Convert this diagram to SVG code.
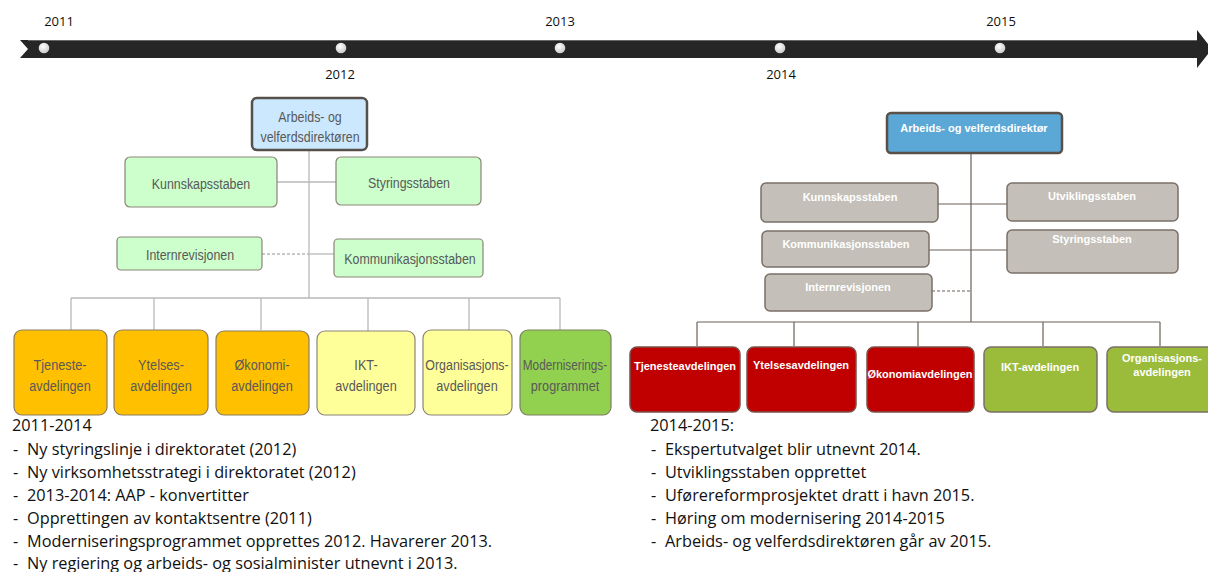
<svg xmlns="http://www.w3.org/2000/svg" width="1208" height="572" viewBox="0 0 1208 572">
<defs>
<radialGradient id="dot" cx="0.4" cy="0.35" r="0.7">
<stop offset="0" stop-color="#ffffff"/>
<stop offset="1" stop-color="#c8c8c8"/>
</radialGradient>
<style>
.yr{font-family:"Open Sans","Liberation Sans",sans-serif;font-size:13px;fill:#111}
.ln{fill:none;stroke:#b8b8b8;stroke-width:1.3}
.rl{fill:none;stroke:#6b6058;stroke-width:1.2}
.dash{stroke-dasharray:3,2}
.nl{font-family:"Liberation Sans",Arial,sans-serif;font-size:15.5px;fill:#595959;text-anchor:middle}
.nr{font-family:"Liberation Sans",Arial,sans-serif;font-size:11px;font-weight:bold;fill:#ffffff;text-anchor:middle}
.grn{fill:#ccffcc;stroke:#8c8478;stroke-width:1.2}
.org{fill:#ffc000;stroke:#8c7c60;stroke-width:1.2}
.yel{fill:#ffff99;stroke:#8c8478;stroke-width:1.2}
.lgr{fill:#92d050;stroke:#7c8060;stroke-width:1.2}
.gry{fill:#c4bfb8;stroke:#7a7068;stroke-width:1.5}
.red{fill:#c00000;stroke:#7a5048;stroke-width:1.5}
.olv{fill:#9bbb3b;stroke:#7a7068;stroke-width:1.5}
.bt{font-family:"Open Sans","Liberation Sans",sans-serif;font-size:16.3px;fill:#111}
</style>
</defs>
<rect width="1208" height="572" fill="#ffffff"/>

<g id="timeline">
<polygon points="20,40 1197,40 1197,30 1212,49 1197,68 1197,58 20,58 28,49" fill="#262626"/>
<line x1="28" y1="40.5" x2="1197" y2="40.5" stroke="#666" stroke-width="1"/>
<g fill="url(#dot)">
<circle cx="44" cy="48" r="5.3"/>
<circle cx="341" cy="48" r="5.3"/>
<circle cx="560" cy="48" r="5.3"/>
<circle cx="780" cy="48" r="5.3"/>
<circle cx="1000" cy="48" r="5.3"/>
</g>
<text class="yr" x="59" y="26" text-anchor="middle">2011</text>
<text class="yr" x="560" y="26" text-anchor="middle">2013</text>
<text class="yr" x="1001" y="26" text-anchor="middle">2015</text>
<text class="yr" x="340" y="79" text-anchor="middle">2012</text>
<text class="yr" x="781" y="79" text-anchor="middle">2014</text>
</g>

<g id="connectors">
<line class="ln" x1="309" y1="150" x2="309" y2="298"/>
<line class="ln" x1="277" y1="182" x2="336" y2="182"/>
<line class="ln dash" x1="262" y1="254" x2="309" y2="254"/>
<line class="ln" x1="309" y1="254" x2="334" y2="254"/>
<line class="ln" x1="71" y1="298" x2="560" y2="298"/>
<line class="ln" x1="71" y1="298" x2="71" y2="330"/>
<line class="ln" x1="154" y1="298" x2="154" y2="330"/>
<line class="ln" x1="261" y1="298" x2="261" y2="330"/>
<line class="ln" x1="368" y1="298" x2="368" y2="331"/>
<line class="ln" x1="469" y1="298" x2="469" y2="330"/>
<line class="ln" x1="560" y1="298" x2="560" y2="330"/>

<line class="rl" x1="971" y1="153" x2="971" y2="322"/>
<line class="rl" x1="938" y1="204" x2="1007" y2="204"/>
<line class="rl" x1="929" y1="250" x2="1007" y2="250"/>
<line class="rl dash" x1="932" y1="291" x2="971" y2="291"/>
<line class="rl" x1="697" y1="322" x2="1160" y2="322"/>
<line class="rl" x1="697" y1="322" x2="697" y2="346"/>
<line class="rl" x1="794" y1="322" x2="794" y2="346"/>
<line class="rl" x1="918" y1="322" x2="918" y2="346"/>
<line class="rl" x1="1043" y1="322" x2="1043" y2="346"/>
<line class="rl" x1="1160" y1="322" x2="1160" y2="346"/>
</g>

<g id="l-director">
<rect x="252" y="98" width="115" height="52" rx="5" fill="#cce8ff" stroke="#555049" stroke-width="2.5"/>
<text class="nl" transform="translate(310,122) scale(0.8,1)">Arbeids- og</text>
<text class="nl" transform="translate(310,142) scale(0.8,1)">velferdsdirektøren</text>
</g>
<g id="l-kunnskap"><rect class="grn" x="125" y="157" width="152" height="50" rx="5"/><text class="nl" transform="translate(201,189) scale(0.8,1)">Kunnskapsstaben</text></g>
<g id="l-styring"><rect class="grn" x="336" y="157" width="145" height="48" rx="5"/><text class="nl" transform="translate(409,188) scale(0.8,1)">Styringsstaben</text></g>
<g id="l-intern"><rect class="grn" x="117" y="237" width="145" height="33" rx="4"/><text class="nl" transform="translate(190,260) scale(0.8,1)">Internrevisjonen</text></g>
<g id="l-kommunikasjon"><rect class="grn" x="334" y="239" width="149" height="38" rx="4"/><text class="nl" transform="translate(410,264) scale(0.8,1)">Kommunikasjonsstaben</text></g>

<g id="l-tjeneste"><rect class="org" x="14" y="330" width="93" height="85" rx="8"/><text class="nl" transform="translate(60,370) scale(0.82,1)">Tjeneste-</text><text class="nl" transform="translate(60,391) scale(0.82,1)">avdelingen</text></g>
<g id="l-ytelse"><rect class="org" x="114" y="330" width="94" height="85" rx="8"/><text class="nl" transform="translate(161,370) scale(0.82,1)">Ytelses-</text><text class="nl" transform="translate(161,391) scale(0.82,1)">avdelingen</text></g>
<g id="l-okonomi"><rect class="org" x="216" y="331" width="93" height="84" rx="8"/><text class="nl" transform="translate(262,370) scale(0.82,1)">Økonomi-</text><text class="nl" transform="translate(262,391) scale(0.82,1)">avdelingen</text></g>
<g id="l-ikt"><rect class="yel" x="317" y="331" width="98" height="84" rx="8"/><text class="nl" transform="translate(366,370) scale(0.82,1)">IKT-</text><text class="nl" transform="translate(366,391) scale(0.82,1)">avdelingen</text></g>
<g id="l-org"><rect class="yel" x="423" y="330" width="89" height="85" rx="8"/><text class="nl" transform="translate(467,370) scale(0.8,1)">Organisasjons-</text><text class="nl" transform="translate(467,391) scale(0.82,1)">avdelingen</text></g>
<g id="l-modern"><rect class="lgr" x="520" y="330" width="91" height="85" rx="8"/><text class="nl" transform="translate(565,370) scale(0.76,1)">Moderniserings-</text><text class="nl" transform="translate(565,391) scale(0.82,1)">programmet</text></g>

<g id="r-director">
<rect x="887" y="113" width="175" height="40" rx="4" fill="#5ba7d6" stroke="#5a5048" stroke-width="2.5"/>
<text class="nr" x="974" y="132">Arbeids- og velferdsdirektør</text>
</g>
<g id="r-kunnskap"><rect class="gry" x="761" y="183" width="177" height="39" rx="5"/><text class="nr" x="850" y="201">Kunnskapsstaben</text></g>
<g id="r-utvikling"><rect class="gry" x="1007" y="183" width="171" height="38" rx="5"/><text class="nr" x="1092" y="200">Utviklingsstaben</text></g>
<g id="r-kommunikasjon"><rect class="gry" x="762" y="231" width="167" height="36" rx="5"/><text class="nr" x="846" y="248">Kommunikasjonsstaben</text></g>
<g id="r-styring"><rect class="gry" x="1007" y="230" width="171" height="43" rx="5"/><text class="nr" x="1092" y="243">Styringsstaben</text></g>
<g id="r-intern"><rect class="gry" x="765" y="274" width="167" height="37" rx="5"/><text class="nr" x="848" y="291">Internrevisjonen</text></g>

<g id="r-tjeneste"><rect class="red" x="630" y="347" width="110" height="65" rx="7"/><text class="nr" x="685" y="370">Tjenesteavdelingen</text></g>
<g id="r-ytelse"><rect class="red" x="747" y="347" width="109" height="65" rx="7"/><text class="nr" x="801" y="369">Ytelsesavdelingen</text></g>
<g id="r-okonomi"><rect class="red" x="867" y="347" width="107" height="65" rx="7"/><text class="nr" x="920" y="378">Økonomiavdelingen</text></g>
<g id="r-ikt"><rect class="olv" x="984" y="347" width="113" height="65" rx="7"/><text class="nr" x="1040" y="371">IKT-avdelingen</text></g>
<g id="r-org"><rect class="olv" x="1107" y="347" width="110" height="65" rx="7"/><text class="nr" x="1162" y="362">Organisasjons-</text><text class="nr" x="1162" y="376">avdelingen</text></g>

<g id="left-text" class="bt">
<text x="12" y="431">2011-2014</text>
<text x="13" y="455">-</text><text x="27" y="455">Ny styringslinje i direktoratet (2012)</text>
<text x="13" y="478">-</text><text x="27" y="478">Ny virksomhetsstrategi i direktoratet (2012)</text>
<text x="13" y="501">-</text><text x="27" y="501">2013-2014: AAP - konvertitter</text>
<text x="13" y="524">-</text><text x="27" y="524">Opprettingen av kontaktsentre (2011)</text>
<text x="13" y="547">-</text><text x="27" y="547">Moderniseringsprogrammet opprettes 2012. Havarerer 2013.</text>
<text x="13" y="569">-</text><text x="27" y="569">Ny regiering og arbeids- og sosialminister utnevnt i 2013.</text>
</g>
<g id="right-text" class="bt">
<text x="650" y="431">2014-2015:</text>
<text x="651" y="455">-</text><text x="665" y="455">Ekspertutvalget blir utnevnt 2014.</text>
<text x="651" y="478">-</text><text x="665" y="478">Utviklingsstaben opprettet</text>
<text x="651" y="501">-</text><text x="665" y="501">Uførereformprosjektet dratt i havn 2015.</text>
<text x="651" y="524">-</text><text x="665" y="524">Høring om modernisering 2014-2015</text>
<text x="651" y="547">-</text><text x="665" y="547">Arbeids- og velferdsdirektøren går av 2015.</text>
</g>
</svg>
